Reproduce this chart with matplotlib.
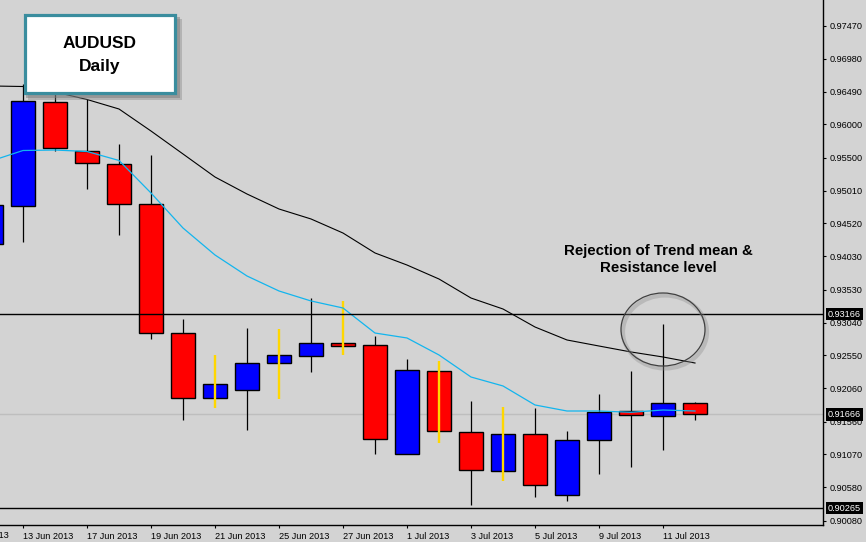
import matplotlib.pyplot as plt
import numpy as np
from matplotlib.patches import Rectangle, Ellipse
from matplotlib.transforms import blended_transform_factory

plt.rcParams['font.family'] = ['Liberation Sans', 'DejaVu Sans']

# daily candles, AUDUSD
days = ['12 Jun 2013', '13 Jun 2013', '14 Jun 2013', '17 Jun 2013', '18 Jun 2013',
        '19 Jun 2013', '20 Jun 2013', '21 Jun 2013', '24 Jun 2013', '25 Jun 2013',
        '26 Jun 2013', '27 Jun 2013', '28 Jun 2013', '1 Jul 2013', '2 Jul 2013',
        '3 Jul 2013', '4 Jul 2013', '5 Jul 2013', '8 Jul 2013', '9 Jul 2013',
        '10 Jul 2013', '11 Jul 2013', '12 Jul 2013']
opens = [0.94213, 0.94785, 0.96335, 0.95603, 0.95408, 0.94811, 0.92883, 0.91912,
         0.92032, 0.92435, 0.92545, 0.92730, 0.92704, 0.91076, 0.92316, 0.91404,
         0.90822, 0.91374, 0.90463, 0.91285, 0.91718, 0.91648, 0.91837]
highs = [0.94945, 0.96603, 0.96484, 0.96379, 0.95707, 0.95543, 0.93093, 0.92555,
         0.92958, 0.92943, 0.93406, 0.93361, 0.92839, 0.92495, 0.92465, 0.91867,
         0.91778, 0.91767, 0.91419, 0.91972, 0.92316, 0.93018, 0.91852]
lows = [0.94123, 0.94247, 0.95607, 0.95039, 0.94352, 0.92794, 0.91584, 0.91767,
        0.91434, 0.91897, 0.92305, 0.92555, 0.91080, 0.91076, 0.91240, 0.90318,
        0.90677, 0.90438, 0.90378, 0.90781, 0.90886, 0.91140, 0.91588]
closes = [0.94796, 0.96350, 0.95647, 0.95423, 0.94811, 0.92879, 0.91912, 0.92121,
          0.92435, 0.92555, 0.92734, 0.92694, 0.91300, 0.92331, 0.91419, 0.90837,
          0.91374, 0.90612, 0.91285, 0.91708, 0.91658, 0.91837, 0.91666]
# candles drawn with a yellow wick
marked = [False, False, False, False, False, False, False, True, False, True,
          False, True, False, False, True, False, True, False, False, False,
          False, False, False]

fast_ma = [0.95453, 0.95610, 0.95617, 0.95595, 0.95461, 0.94975, 0.94452, 0.94049,
           0.93735, 0.93511, 0.93362, 0.93257, 0.92883, 0.92809, 0.92555, 0.92226,
           0.92092, 0.91808, 0.91718, 0.91718, 0.91699, 0.91733, 0.91718]
slow_ma = [0.96574, 0.96566, 0.96484, 0.96372, 0.96230, 0.95901, 0.95558, 0.95214,
           0.94960, 0.94736, 0.94587, 0.94377, 0.94079, 0.93899, 0.93690, 0.93406,
           0.93242, 0.92973, 0.92779, 0.92689, 0.92600, 0.92525, 0.92435]

price_ticks = [0.97470, 0.96980, 0.96490, 0.96000, 0.95500, 0.95010, 0.94520, 0.94030,
               0.93530, 0.93040, 0.92550, 0.92060, 0.91560, 0.91070, 0.90580, 0.90080]
resistance = 0.93166
support = 0.90265
last_price = 0.91666

bg = '#D3D3D3'
fig = plt.figure(figsize=(8.66, 5.42), dpi=100, facecolor=bg)
ax = fig.add_axes([0, 17/542, 823/866, 525/542], facecolor=bg)

x = np.arange(len(days))
o = np.array(opens)
c = np.array(closes)
h = np.array(highs)
l = np.array(lows)
m = np.array(marked)
colors = ['#0000FF' if cc >= oo else '#FF0000' for oo, cc in zip(o, c)]

ax.axhline(last_price, color='#BEBEBE', lw=1, zorder=1)

ax.vlines(x[~m], l[~m], h[~m], color='black', lw=0.9, zorder=2)
ax.bar(x, np.abs(c - o), bottom=np.minimum(o, c), width=0.75, color=colors,
       edgecolor='black', linewidth=1.0, zorder=3)
ax.vlines(x[m], l[m], h[m], color='#FFD700', lw=1.7, zorder=4)

ax.plot(x, slow_ma, color='black', lw=0.8, zorder=5)
ax.plot(x, fast_ma, color='#12B5EE', lw=0.9, zorder=5)

ax.axhline(resistance, color='black', lw=1, zorder=6)
ax.axhline(support, color='black', lw=1, zorder=6)

ax.set_xlim(0.28125, 26.0)
ax.set_ylim(0.900149, 0.978584)

# axes, MT4 style
for s in ['top', 'left']:
    ax.spines[s].set_visible(False)
for s in ['right', 'bottom']:
    ax.spines[s].set_linewidth(1)
ax.yaxis.tick_right()
ax.set_yticks(price_ticks)
ax.set_yticklabels([f'{p:.5f}' for p in price_ticks])
ax.set_xticks(x[1::2])
ax.set_xticklabels(days[1::2], ha='left')
ax.tick_params(axis='both', labelsize=6.6, length=2.5, pad=2.2, width=0.8)

# first date label, partly off screen
ax.text(-1, 0.11, '11 Jun 2013', transform=blended_transform_factory(ax.transData, fig.dpi_scale_trans),
        ha='left', va='top', fontsize=6.6, clip_on=False)

# price tags
ytr = blended_transform_factory(ax.transAxes, ax.transData)
for p in [resistance, last_price, support]:
    ax.text(828/823, p, f'{p:.5f}', transform=ytr, color='white', fontsize=6.6,
            ha='left', va='center', zorder=10, clip_on=False,
            bbox=dict(boxstyle='square,pad=0.18', fc='black', ec='none'))

# title box
inch = fig.dpi_scale_trans
def pos(px, py):
    return (px / 100, (542 - py) / 100)

fig.add_artist(Rectangle(pos(28, 100), 1.54, 0.81, transform=inch, fc='#7a7a7a', ec='none', alpha=0.35, zorder=20))
fig.add_artist(Rectangle(pos(26, 98), 1.54, 0.81, transform=inch, fc='#7a7a7a', ec='none', alpha=0.5, zorder=20))
fig.add_artist(Rectangle(pos(24.5, 93.5), 1.51, 0.78, transform=inch, fc='white', ec='#3A8D9E', lw=2.3, zorder=21))
fig.text(*pos(100, 43), 'AUDUSD', transform=inch, ha='center', va='center',
         fontsize=12.5, fontweight='bold', zorder=22)
fig.text(*pos(100, 67), 'Daily', transform=inch, ha='center', va='center',
         fontsize=12.5, fontweight='bold', zorder=22)

# annotation
fig.text(*pos(658, 251), 'Rejection of Trend mean &', transform=inch, ha='center', va='center',
         fontsize=10.8, fontweight='bold', zorder=22)
fig.text(*pos(658, 268), 'Resistance level', transform=inch, ha='center', va='center',
         fontsize=10.8, fontweight='bold', zorder=22)
fig.add_artist(Ellipse(pos(665, 332), 0.84, 0.73, transform=inch, fc='none', ec='#8a8a8a',
                       lw=3, alpha=0.35, zorder=20))
fig.add_artist(Ellipse(pos(663, 329.5), 0.84, 0.73, transform=inch, fc='none', ec='#404040',
                       lw=0.9, zorder=21))

fig.savefig('out.png', dpi=100, facecolor=bg)
